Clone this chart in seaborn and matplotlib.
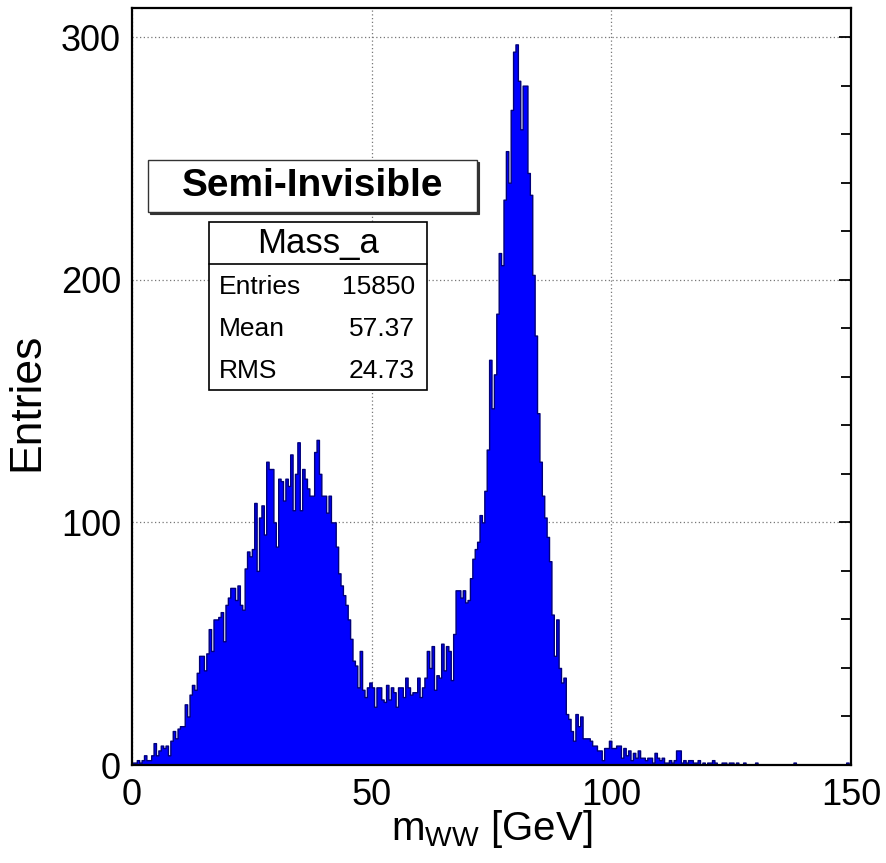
import numpy as np
import pandas as pd
import seaborn as sns
import matplotlib.pyplot as plt
from matplotlib.ticker import MultipleLocator
from matplotlib.patches import Rectangle

# bin contents, 0.5 GeV bins from 0 to 150 GeV
counts_0_25 = [1, 1, 2, 1, 2, 4, 2, 2, 4, 9,
               4, 6, 8, 7, 8, 4, 10, 14, 11, 15,
               16, 16, 25, 20, 29, 33, 31, 38, 45, 45,
               39, 46, 56, 47, 60, 60, 61, 63, 51, 66,
               69, 73, 73, 68, 74, 66, 64, 81, 88, 86]
counts_25_50 = [89, 108, 80, 102, 107, 95, 125, 122, 122, 100,
                90, 118, 117, 109, 118, 115, 128, 105, 120, 133,
                105, 122, 118, 114, 111, 111, 129, 134, 120, 111,
                111, 104, 111, 100, 100, 90, 79, 74, 70, 66,
                60, 52, 43, 41, 32, 47, 31, 28, 32, 34]
counts_50_75 = [32, 24, 32, 32, 27, 26, 33, 27, 32, 30,
                24, 32, 32, 28, 36, 32, 29, 30, 30, 36,
                28, 32, 36, 47, 40, 49, 31, 37, 36, 50,
                39, 49, 47, 35, 54, 72, 72, 69, 72, 67,
                68, 77, 85, 89, 92, 103, 100, 113, 130, 167]
counts_75_100 = [147, 161, 186, 211, 206, 233, 253, 240, 270, 294,
                 297, 282, 262, 280, 280, 244, 235, 202, 177, 145,
                 125, 111, 102, 94, 84, 62, 45, 60, 40, 34,
                 36, 21, 19, 14, 10, 21, 16, 20, 11, 11,
                 11, 10, 8, 8, 6, 6, 2, 7, 7, 10]
counts_100_125 = [7, 7, 8, 8, 3, 7, 4, 6, 2, 5,
                  3, 6, 3, 3, 2, 3, 3, 1, 5, 3,
                  2, 3, 1, 1, 2, 1, 2, 6, 6, 1,
                  2, 1, 2, 2, 1, 1, 2, 0, 1, 0,
                  1, 1, 2, 1, 0, 0, 1, 1, 0, 1]
counts_125_150 = [1, 0, 1, 0, 0, 1, 0, 0, 0, 0,
                  1, 0, 0, 0, 0, 0, 0, 0, 0, 0,
                  0, 0, 0, 0, 0, 0, 1, 0, 0, 0,
                  0, 0, 0, 0, 0, 0, 0, 0, 0, 0,
                  0, 0, 0, 0, 0, 0, 0, 0, 1, 0]

hist_name = "Mass_a"
stat_names = ["Entries", "Mean", "RMS"]
stat_values = ["15850", "57.37", "24.73"]
title_text = "Semi-Invisible"

counts = (counts_0_25 + counts_25_50 + counts_50_75 +
          counts_75_100 + counts_100_125 + counts_125_150)
nbins = len(counts)
centers = (np.arange(nbins) + 0.5) * 150 / nbins
df = pd.DataFrame({"m_ww": centers, "n": counts})

sns.set_theme(style="white")
plt.rcParams['font.family'] = ['Liberation Sans', 'DejaVu Sans']
plt.rcParams['mathtext.fontset'] = 'custom'
plt.rcParams['mathtext.rm'] = 'Liberation Sans'
plt.rcParams['mathtext.it'] = 'Liberation Sans'
plt.rcParams['text.color'] = 'black'
plt.rcParams['axes.labelcolor'] = 'black'

W, H = 887, 863
fig = plt.figure(figsize=(W / 100, H / 100), dpi=100)
ax = fig.add_axes([132 / W, (H - 765) / H, (851 - 132) / W, (765 - 8) / H])

sns.histplot(data=df, x="m_ww", weights="n", bins=nbins, binrange=(0, 150),
             element="step", fill=True, color="#0000ff", edgecolor="#00007a",
             alpha=1, linewidth=1.0, ax=ax)

ax.set_xlim(0, 150)
ax.set_ylim(0, 312)
ax.xaxis.set_major_locator(MultipleLocator(50))
ax.xaxis.set_minor_locator(MultipleLocator(10))
ax.yaxis.set_major_locator(MultipleLocator(100))
ax.yaxis.set_minor_locator(MultipleLocator(20))
ax.set_axisbelow(True)
ax.grid(True, which="major", color="#777777", linestyle=(0, (1, 2)), linewidth=0.9)

ax.tick_params(which="both", direction="in", right=True, top=False,
               labelsize=26, colors="black", width=1.3)
ax.tick_params(axis="x", which="major", length=14.5, pad=9)
ax.tick_params(axis="x", which="minor", length=7.5)
ax.tick_params(axis="y", which="major", length=9, pad=8)
ax.tick_params(axis="y", which="minor", length=7)
for s in ax.spines.values():
    s.set_linewidth(1.6)
    s.set_color("black")

ax.set_xlabel(r"m$_{\mathrm{WW}}$ [GeV]", fontsize=29)
ax.set_ylabel("Entries", fontsize=32)
ax.xaxis.set_label_coords(0.5, -0.057)
ax.yaxis.set_label_coords(-0.118, 0.48)


def fx(x):
    return x / W


def fy(y):
    return 1 - y / H


# title pave with shadow
fig.patches.append(Rectangle((fx(150), fy(214)), fx(477) - fx(148), fy(160) - fy(212),
                             transform=fig.transFigure, facecolor="#333333",
                             edgecolor="#333333", lw=0.8, zorder=5))
fig.patches.append(Rectangle((fx(148), fy(212)), fx(477) - fx(148), fy(160) - fy(212),
                             transform=fig.transFigure, facecolor="white",
                             edgecolor="#333333", lw=1, zorder=6))
fig.text(fx(313), fy(186), title_text, ha="center", va="center",
         fontsize=28, fontweight="bold", zorder=7)

# stats box
fig.patches.append(Rectangle((fx(209), fy(390)), fx(427) - fx(209), fy(222) - fy(390),
                             transform=fig.transFigure, facecolor="white",
                             edgecolor="black", lw=1.2, zorder=6))
fig.lines.append(plt.Line2D([fx(209), fx(427)], [fy(264), fy(264)],
                            transform=fig.transFigure, color="black", lw=1.2, zorder=7))
fig.text(fx(318), fy(244), hist_name, ha="center", va="center", fontsize=25, zorder=7)
for i, (nm, val) in enumerate(zip(stat_names, stat_values)):
    yy = fy(287 + 42 * i)
    fig.text(fx(219), yy, nm, ha="left", va="center", fontsize=19, zorder=7)
    fig.text(fx(415), yy, val, ha="right", va="center", fontsize=19, zorder=7)

fig.savefig("out.png", dpi=100)
